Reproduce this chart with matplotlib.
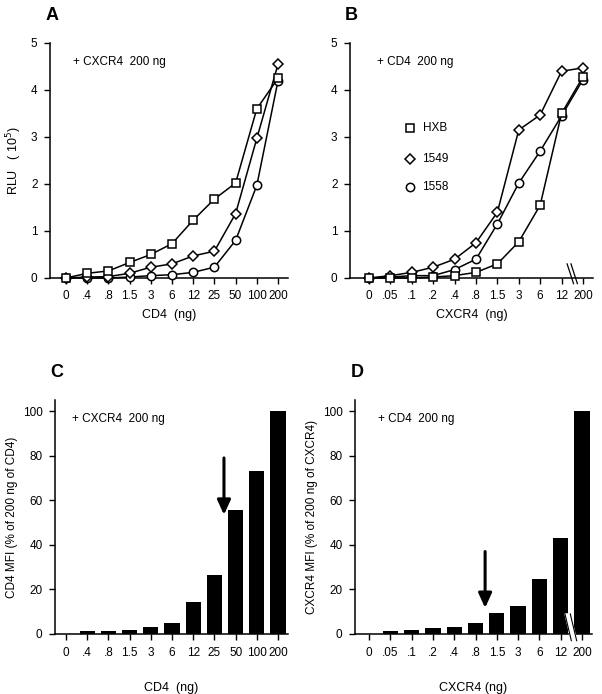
import matplotlib
matplotlib.use("Agg")
import matplotlib.pyplot as plt

plt.rcParams["font.family"] = ["Liberation Sans", "DejaVu Sans"]
plt.rcParams["font.size"] = 8

cd4_labels = ["0", ".4", ".8", "1.5", "3", "6", "12", "25", "50", "100", "200"]
cxcr4_labels = ["0", ".05", ".1", ".2", ".4", ".8", "1.5", "3", "6", "12", "200"]

# panel A: RLU (10^5) vs CD4, CXCR4 fixed at 200 ng
a_hxb = [0, 0.1, 0.15, 0.33, 0.5, 0.73, 1.23, 1.68, 2.02, 3.6, 4.25]
a_1549 = [0, 0.02, 0.03, 0.1, 0.23, 0.3, 0.47, 0.57, 1.37, 2.97, 4.55]
a_1558 = [0, 0.0, 0.0, 0.02, 0.05, 0.07, 0.12, 0.23, 0.8, 1.97, 4.2]

# panel B: RLU (10^5) vs CXCR4, CD4 fixed at 200 ng
b_hxb = [0, 0, 0, 0.02, 0.05, 0.12, 0.3, 0.77, 1.55, 3.5, 4.28]
b_1549 = [0, 0.05, 0.12, 0.23, 0.4, 0.75, 1.4, 3.15, 3.47, 4.4, 4.47]
b_1558 = [0, 0.02, 0.05, 0.05, 0.18, 0.4, 1.15, 2.02, 2.7, 3.45, 4.22]

# panels C and D: MFI bars
c_mfi = [0, 1.2, 1.2, 1.7, 3.3, 4.9, 14.5, 26.5, 55.5, 73.3, 100]
d_mfi = [0, 1.2, 1.7, 2.8, 3.3, 4.8, 9.5, 12.7, 24.8, 43.2, 100]

W, H = 602, 694
fig = plt.figure(figsize=(W / 100, H / 100), dpi=100)


def box(l, t, r, b):
    return [l / W, 1 - b / H, (r - l) / W, (b - t) / H]


def style(ax):
    for s in ["top", "right"]:
        ax.spines[s].set_visible(False)
    for s in ["left", "bottom"]:
        ax.spines[s].set_linewidth(1.1)
    ax.tick_params(direction="out", length=4, width=1, pad=5, labelsize=8.5)


def line_panel(ax, x_labels, hxb, s1549, s1558, xlim):
    x = list(range(len(x_labels)))
    mk = dict(color="black", lw=1.1, mfc="white", mec="black", mew=1.1, clip_on=False)
    ax.plot(x, s1558, marker="o", ms=6, zorder=3, **mk)
    ax.plot(x, s1549, marker="D", ms=5.5, zorder=4, **mk)
    ax.plot(x, hxb, marker="s", ms=6, zorder=5, **mk)
    ax.set_xlim(*xlim)
    ax.set_ylim(0, 5)
    ax.set_yticks(range(6))
    ax.set_xticks(x)
    ax.set_xticklabels(x_labels)
    style(ax)


def bar_panel(ax, x_labels, vals, xlim):
    x = list(range(len(x_labels)))
    ax.bar(x, vals, width=0.72, color="black")
    ax.set_xlim(*xlim)
    ax.set_ylim(0, 105)
    ax.set_yticks(range(0, 101, 20))
    ax.set_xticks(x)
    ax.set_xticklabels(x_labels)
    style(ax)


axA = fig.add_axes(box(50, 43, 288, 278))
line_panel(axA, cd4_labels, a_hxb, a_1549, a_1558, (-0.75, 10.47))
axA.set_ylabel("RLU   ( 10$^5$)", fontsize=9, labelpad=5)
axA.set_xlabel("CD4  (ng)", fontsize=9, labelpad=5)
axA.text(0.33, 4.6, "+ CXCR4  200 ng", fontsize=8.5, va="center")

axB = fig.add_axes(box(350, 43, 593, 278))
line_panel(axB, cxcr4_labels, b_hxb, b_1549, b_1558, (-0.89, 10.47))
axB.set_xlabel("CXCR4  (ng)", fontsize=9, labelpad=5)
axB.text(0.37, 4.6, "+ CD4  200 ng", fontsize=8.5, va="center")
leg_y = [3.19, 2.53, 1.94]
leg_m = [("s", "HXB"), ("D", "1549"), ("o", "1558")]
for yy, (m, lab) in zip(leg_y, leg_m):
    axB.plot([1.92], [yy], marker=m, ms=6 if m != "D" else 5.5, mfc="white",
             mec="black", mew=1.1, ls="none")
    axB.text(2.5, yy, lab, va="center", fontsize=8.5)
# axis break between 12 and 200
for dx in (-0.09, 0.09):
    axB.plot([9.35 + dx, 9.65 + dx], [0.3, -0.12], color="black", lw=0.9, clip_on=False)

axC = fig.add_axes(box(55, 400, 288, 634))
bar_panel(axC, cd4_labels, c_mfi, (-0.52, 10.47))
axC.set_ylabel("CD4 MFI (% of 200 ng of CD4)", fontsize=8.5, labelpad=3)
axC.set_xlabel("CD4  (ng)", fontsize=9, labelpad=17)
axC.text(0.3, 96.4, "+ CXCR4  200 ng", fontsize=8.5, va="center")
axC.annotate("", xy=(7.45, 53.5), xytext=(7.45, 79),
             arrowprops=dict(arrowstyle="-|>,head_length=1.1,head_width=0.5",
                             color="black", lw=2.2, shrinkA=0, shrinkB=0))

axD = fig.add_axes(box(355, 400, 592, 634))
bar_panel(axD, cxcr4_labels, d_mfi, (-0.66, 10.47))
axD.set_ylabel("CXCR4 MFI (% of 200 ng of CXCR4)", fontsize=8.5, labelpad=3)
axD.set_xlabel("CXCR4 (ng)", fontsize=9, labelpad=17)
axD.text(0.4, 96.4, "+ CD4  200 ng", fontsize=8.5, va="center")
axD.annotate("", xy=(5.45, 11.7), xytext=(5.45, 37),
             arrowprops=dict(arrowstyle="-|>,head_length=1.1,head_width=0.5",
                             color="black", lw=2.2, shrinkA=0, shrinkB=0))
axD.fill([9.2, 9.5, 9.75, 9.45], [9, -3, -3, 9], color="white", clip_on=False, zorder=5)
for x0 in (9.2, 9.45):
    axD.plot([x0, x0 + 0.3], [9, -3], color="black", lw=0.8, clip_on=False, zorder=6)

for ax, lab in [(axA, "A"), (axB, "B"), (axC, "C"), (axD, "D")]:
    ax.text(-0.02, 1.08, lab, transform=ax.transAxes, fontsize=13,
            fontweight="bold", ha="left", va="bottom")

fig.savefig("out.png", dpi=100)
